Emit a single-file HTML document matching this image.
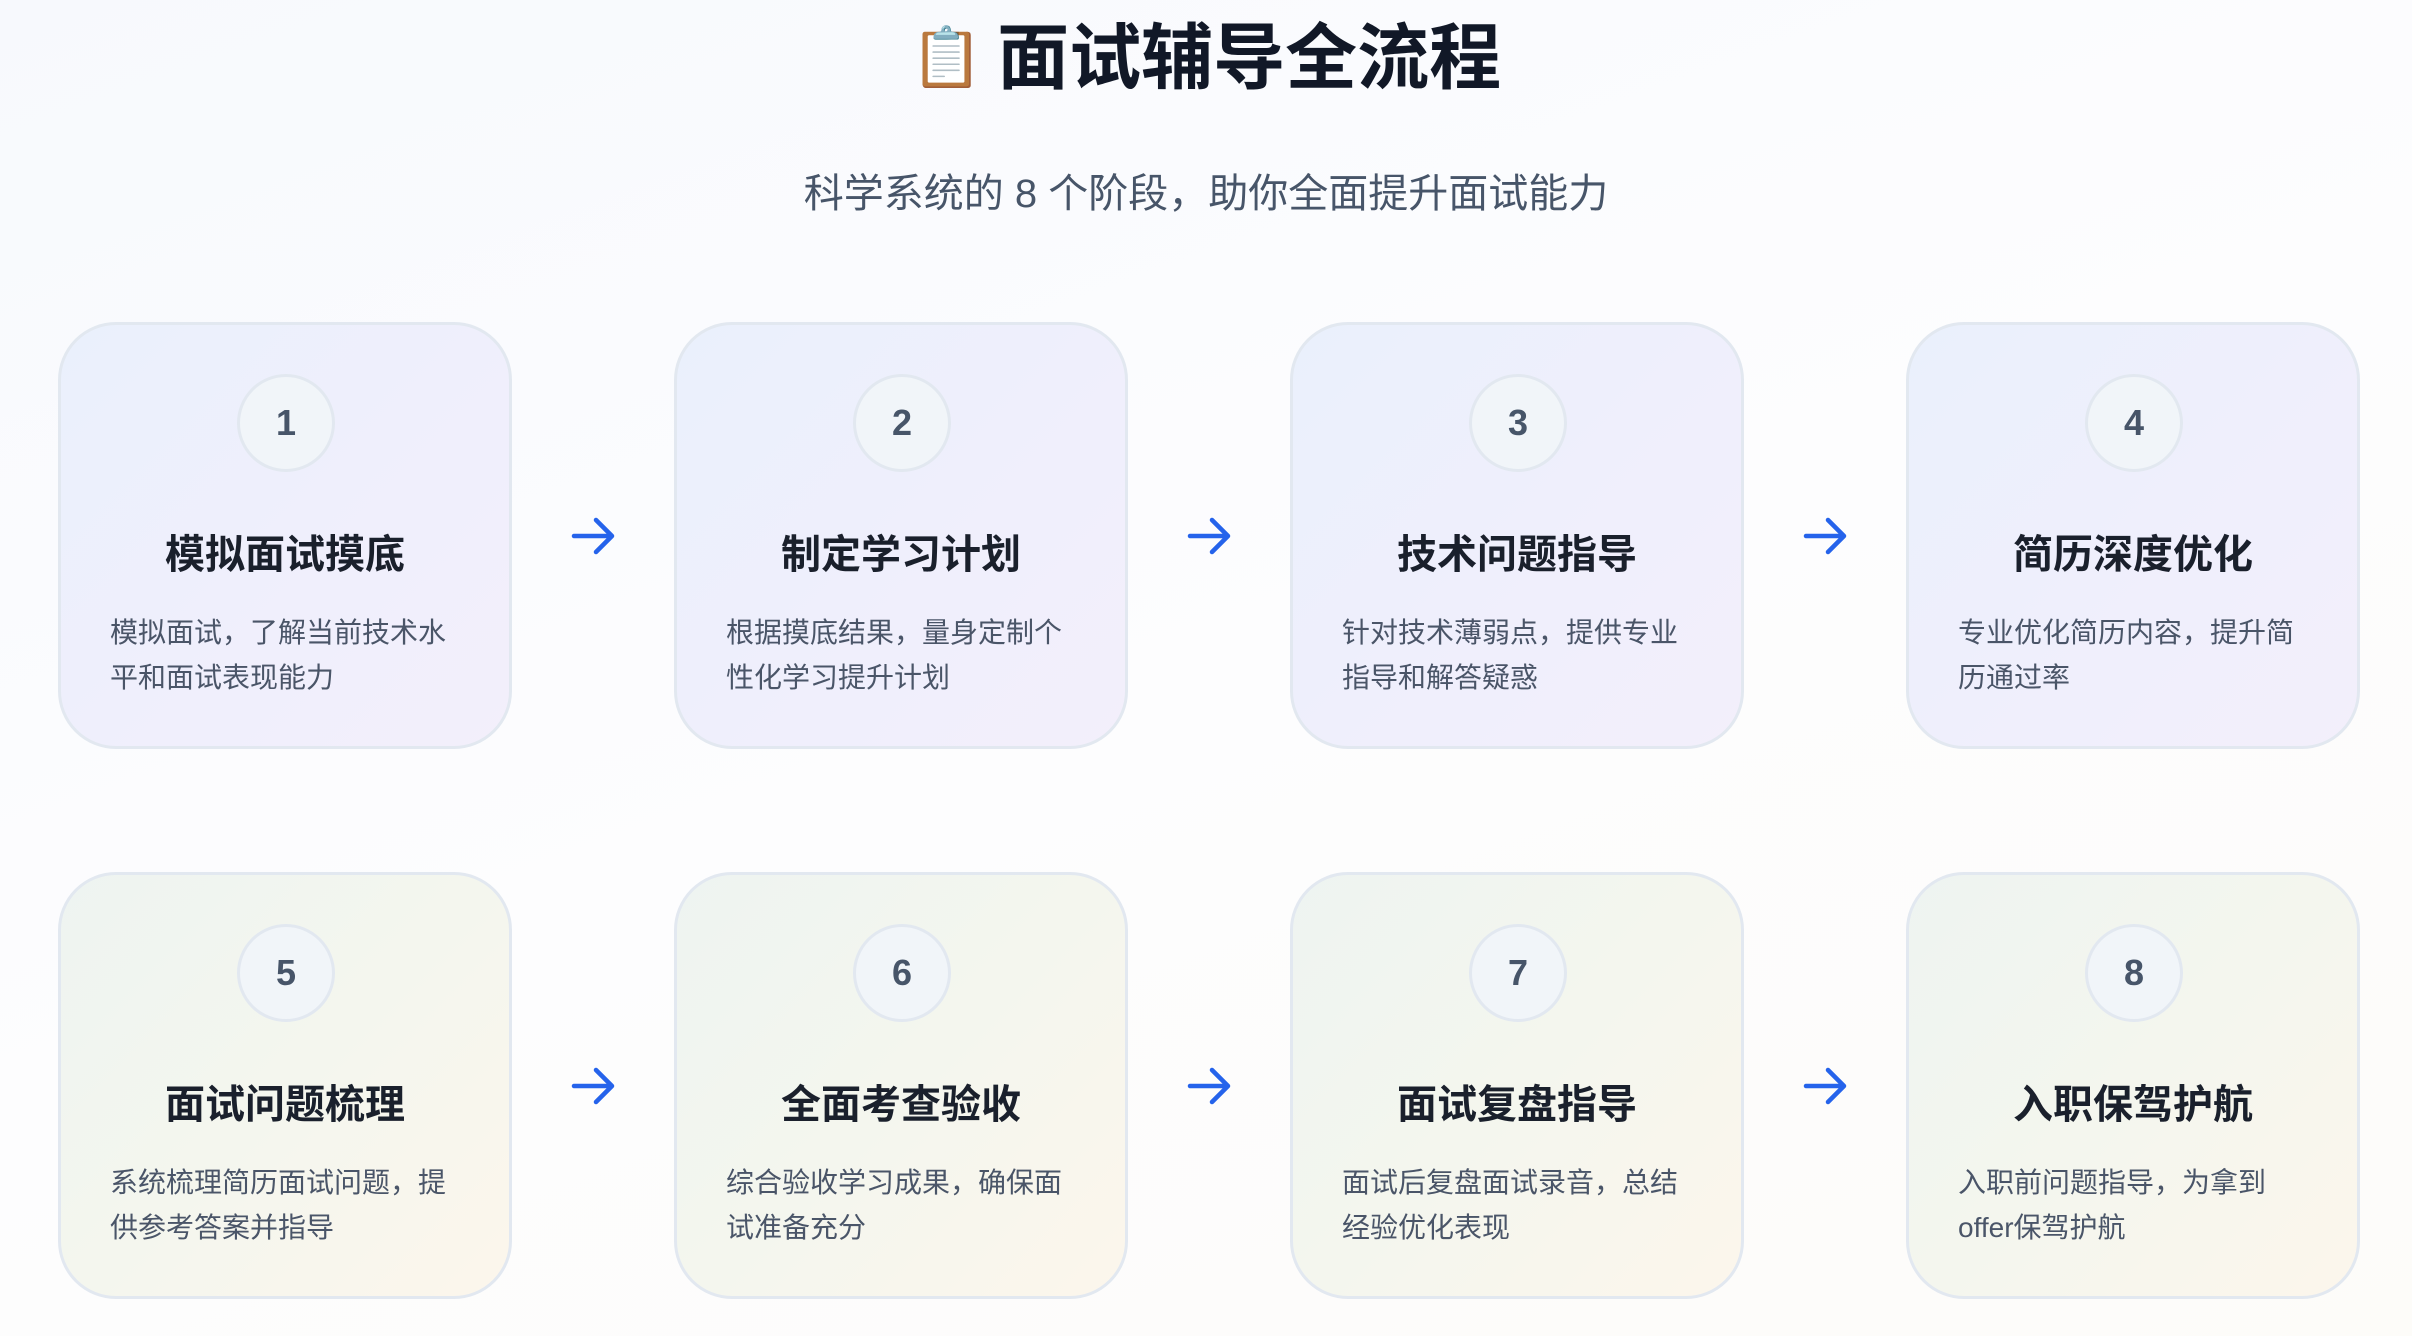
<!DOCTYPE html>
<html><head><meta charset="utf-8"><style>
*{margin:0;padding:0;box-sizing:border-box}
body{width:2412px;height:1336px;background:linear-gradient(160deg,#f7f9fd,#fdfdfe 50%,#fdfcf9);font-family:"Liberation Sans","Noto Sans CJK SC",sans-serif;position:relative;overflow:hidden}
.h1{position:absolute;top:12px;left:0;width:2412px;text-align:center;font-size:72px;font-weight:700;color:#111827;line-height:92px}
.h1 .e{font-size:58px;vertical-align:6px;margin-right:14px}
.sub{position:absolute;top:166px;left:0;width:2412px;text-align:center;font-size:40px;color:#475569;line-height:56px}
.card{position:absolute;width:454px;height:427px;border:3px solid #e2e8f0;border-radius:58px}
.r1{top:322px;background:linear-gradient(135deg,#eaf0fc,#efeffc 50%,#f3effb)}
.r2{top:872px;background:linear-gradient(135deg,#eef4f1,#f4f6ee 50%,#fcf6ec)}
.num{position:absolute;left:176px;top:49px;width:98px;height:98px;border-radius:50%;background:#f1f5f9;border:3px solid #e2e8f0;text-align:center;line-height:92px;font-size:36px;font-weight:700;color:#475569}
.t{position:absolute;top:200px;left:0;width:100%;text-align:center;font-size:40px;font-weight:700;color:#1a202c;line-height:60px}
.d{position:absolute;top:285px;left:49px;width:400px;font-size:28px;color:#4a5568;line-height:45px}
</style></head><body>
<div class="h1"><span class="e">📋</span>面试辅导全流程</div>
<div class="sub">科学系统的 8 个阶段，助你全面提升面试能力</div>

<div class="card r1" style="left:58px"><div class="num">1</div><div class="t">模拟面试摸底</div><div class="d">模拟面试，了解当前技术水<br>平和面试表现能力</div></div>
<div class="card r1" style="left:674px"><div class="num">2</div><div class="t">制定学习计划</div><div class="d">根据摸底结果，量身定制个<br>性化学习提升计划</div></div>
<div class="card r1" style="left:1290px"><div class="num">3</div><div class="t">技术问题指导</div><div class="d">针对技术薄弱点，提供专业<br>指导和解答疑惑</div></div>
<div class="card r1" style="left:1906px"><div class="num">4</div><div class="t">简历深度优化</div><div class="d">专业优化简历内容，提升简<br>历通过率</div></div>

<div class="card r2" style="left:58px"><div class="num">5</div><div class="t">面试问题梳理</div><div class="d">系统梳理简历面试问题，提<br>供参考答案并指导</div></div>
<div class="card r2" style="left:674px"><div class="num">6</div><div class="t">全面考查验收</div><div class="d">综合验收学习成果，确保面<br>试准备充分</div></div>
<div class="card r2" style="left:1290px"><div class="num">7</div><div class="t">面试复盘指导</div><div class="d">面试后复盘面试录音，总结<br>经验优化表现</div></div>
<div class="card r2" style="left:1906px"><div class="num">8</div><div class="t">入职保驾护航</div><div class="d">入职前问题指导，为拿到<br>offer保驾护航</div></div>

<svg width="2412" height="1336" style="position:absolute;left:0;top:0" fill="none" stroke="#2563eb" stroke-width="4.5" stroke-linecap="round" stroke-linejoin="round">
<g id="a"><path d="M574 536h38M596 520l16 16-16 16"/></g>
<use href="#a" x="616"/><use href="#a" x="1232"/>
<use href="#a" y="550"/><use href="#a" x="616" y="550"/><use href="#a" x="1232" y="550"/>
</svg>
</body></html>
